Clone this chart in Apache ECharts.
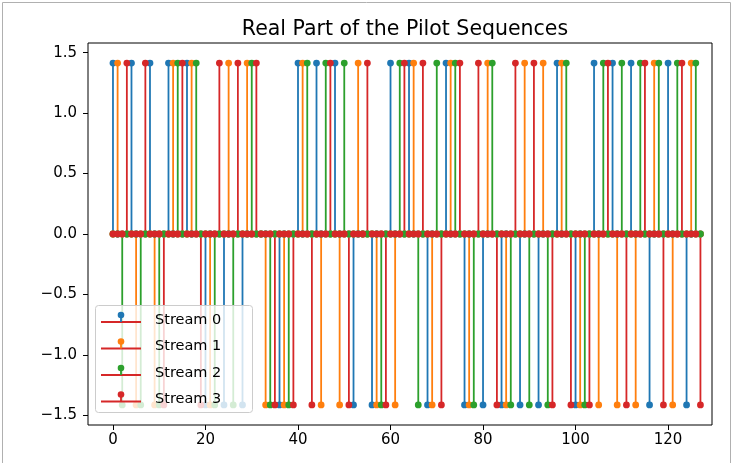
<!DOCTYPE html>
<html>
<head>
<meta charset="utf-8">
<script src="https://cdn.jsdelivr.net/npm/echarts@6/dist/echarts.min.js"></script>
<style>
  html, body { margin: 0; padding: 0; background: #fff; }
  #chart { width: 733px; height: 463px; }
</style>
</head>
<body>
<div id="chart"></div>
<script>
// Real part of the pilot symbol of each stream; stream k owns the slots where index % 4 == k.
const streamNames = ['Stream 0', 'Stream 1', 'Stream 2', 'Stream 3'];
const streamColors = ['#1f77b4', '#ff7f0e', '#2ca02c', '#d62728'];

const pilots0 = [1.414, 1.414, 1.414, 1.414, 1.414, -1.414, -1.414, -1.414, 0, -1.414, 1.414, 1.414, 1.414, -1.414, -1.414, 1.414,
                 1.414, -1.414, 1.414, -1.414, -1.414, -1.414, -1.414, -1.414, 1.414, -1.414, 1.414, 1.414, 1.414, -1.414, 1.414, -1.414];
const pilots1 = [1.414, -1.414, -1.414, 1.414, 1.414, -1.414, 1.414, 1.414, -1.414, -1.414, 1.414, -1.414, -1.414, 1.414, -1.414, -1.414,
                 1.414, -1.414, 1.414, -1.414, 1.414, -1.414, 1.414, 1.414, 1.414, -1.414, -1.414, -1.414, -1.414, 1.414, -1.414, 1.414];
const pilots2 = [-1.414, -1.414, -1.414, 1.414, 1.414, -1.414, -1.414, 1.414, -1.414, -1.414, 1.414, 1.414, 1.414, 0, -1.414, 1.414,
                 -1.414, 1.414, 1.414, -1.414, 1.414, -1.414, -1.414, -1.414, 1.414, -1.414, 1.414, 1.414, 1.414, 1.414, 1.414, 1.414];
const pilots3 = [1.414, 1.414, -1.414, 1.414, -1.414, 1.414, 1.414, 1.414, -1.414, -1.414, -1.414, 1.414, -1.414, 1.414, -1.414, 1.414,
                 1.414, -1.414, 1.414, 1.414, -1.414, 1.414, 1.414, -1.414, -1.414, -1.414, 1.414, -1.414, 1.414, -1.414, 1.414, -1.414];
const pilots = [pilots0, pilots1, pilots2, pilots3];

const numSlots = 128;
const xTicks = [0, 20, 40, 60, 80, 100, 120];
const yTicks = [-1.5, -1.0, -0.5, 0.0, 0.5, 1.0, 1.5];

// Full-length sequence per stream: its own pilot in its slots, zero elsewhere.
function streamSequence(k) {
  const out = [];
  for (let i = 0; i < numSlots; i++) {
    out.push([i, i % 4 === k ? pilots[k][Math.floor(i / 4)] : 0]);
  }
  return out;
}

const FONT = 'DejaVu Sans';
const series = [];

// Stem lines sit underneath every marker and baseline.
for (let k = 0; k < 4; k++) {
  const color = streamColors[k];
  series.push({
    type: 'custom',
    name: streamNames[k] + ' stems',
    z: 1,
    silent: true,
    data: streamSequence(k),
    encode: { x: 0, y: 1 },
    renderItem: function (params, api) {
      const x = api.value(0), v = api.value(1);
      const a = api.coord([x, 0]);
      const b = api.coord([x, v]);
      return {
        type: 'line',
        shape: { x1: a[0], y1: a[1], x2: b[0], y2: b[1] },
        style: { stroke: color, lineWidth: 1.8 }
      };
    }
  });
}

// Markers and the red baseline, stream by stream.
for (let k = 0; k < 4; k++) {
  series.push({
    type: 'scatter',
    name: streamNames[k],
    z: 2,
    symbol: 'circle',
    symbolSize: 6.8,
    itemStyle: { color: streamColors[k], opacity: 1 },
    data: streamSequence(k)
  });
  series.push({
    type: 'line',
    name: streamNames[k] + ' baseline',
    z: 2,
    symbol: 'none',
    lineStyle: { color: '#d62728', width: 1.8 },
    data: [[0, 0], [numSlots - 1, 0]]
  });
}

// Legend drawn as graphic elements so each entry shows stem, marker and baseline.
const LZ = 100;
const legendChildren = [{
  type: 'rect', z: LZ,
  shape: { x: 95.5, y: 305.5, width: 157, height: 107, r: 3 },
  style: { fill: 'rgba(255,255,255,0.8)', stroke: '#cccccc', lineWidth: 1 }
}];
const rowY = [320, 346.5, 373, 399.5];
for (let k = 0; k < 4; k++) {
  const y = rowY[k];
  legendChildren.push(
    { type: 'line', z: LZ + 1, shape: { x1: 101, y1: y + 2, x2: 141, y2: y + 2 }, style: { stroke: '#d62728', lineWidth: 1.8 } },
    { type: 'line', z: LZ + 1, shape: { x1: 121, y1: y + 2, x2: 121, y2: y - 5 }, style: { stroke: streamColors[k], lineWidth: 1.8 } },
    { type: 'circle', z: LZ + 2, shape: { cx: 121, cy: y - 5, r: 3.3 }, style: { fill: streamColors[k] } },
    { type: 'text', z: LZ + 2, x: 155, y: y, style: { text: streamNames[k], font: '14.5px "' + FONT + '"', fill: '#000', verticalAlign: 'middle', align: 'left' } }
  );
}

const fmt = v => (v < 0 ? '\u2212' : '') + Math.abs(v).toFixed(1);

const chart = echarts.init(document.getElementById('chart'), null, { renderer: 'canvas' });
chart.setOption({
  animation: false,
  backgroundColor: '#fff',
  title: {
    text: 'Real Part of the Pilot Sequences',
    left: 400, top: 14, textAlign: 'center',
    textStyle: { fontFamily: FONT, fontSize: 20.5, fontWeight: 'normal', color: '#000' }
  },
  grid: {
    left: 88, top: 43, width: 624, height: 382,
    show: true, borderColor: '#000', borderWidth: 1, backgroundColor: 'transparent'
  },
  xAxis: {
    type: 'value', min: -5.4, max: 129.5,
    axisLine: { show: false, onZero: false },
    splitLine: { show: false },
    axisTick: { show: true, customValues: xTicks, length: 5, inside: false, lineStyle: { color: '#000', width: 1 } },
    axisLabel: { customValues: xTicks, margin: 8, fontFamily: FONT, fontSize: 15, color: '#000', formatter: v => String(v) }
  },
  yAxis: {
    type: 'value', min: -1.58, max: 1.58,
    axisLine: { show: false, onZero: false },
    splitLine: { show: false },
    axisTick: { show: true, customValues: yTicks, length: 5, inside: false, lineStyle: { color: '#000', width: 1 } },
    axisLabel: { customValues: yTicks, margin: 11, fontFamily: FONT, fontSize: 15, color: '#000', formatter: fmt }
  },
  series: series,
  graphic: [
    { type: 'rect', z: 0, silent: true, shape: { x: 2.5, y: 2.5, width: 728, height: 470 }, style: { fill: 'none', stroke: '#b0b0b0', lineWidth: 1 } },
    { type: 'group', children: legendChildren }
  ]
});
</script>
</body>
</html>
